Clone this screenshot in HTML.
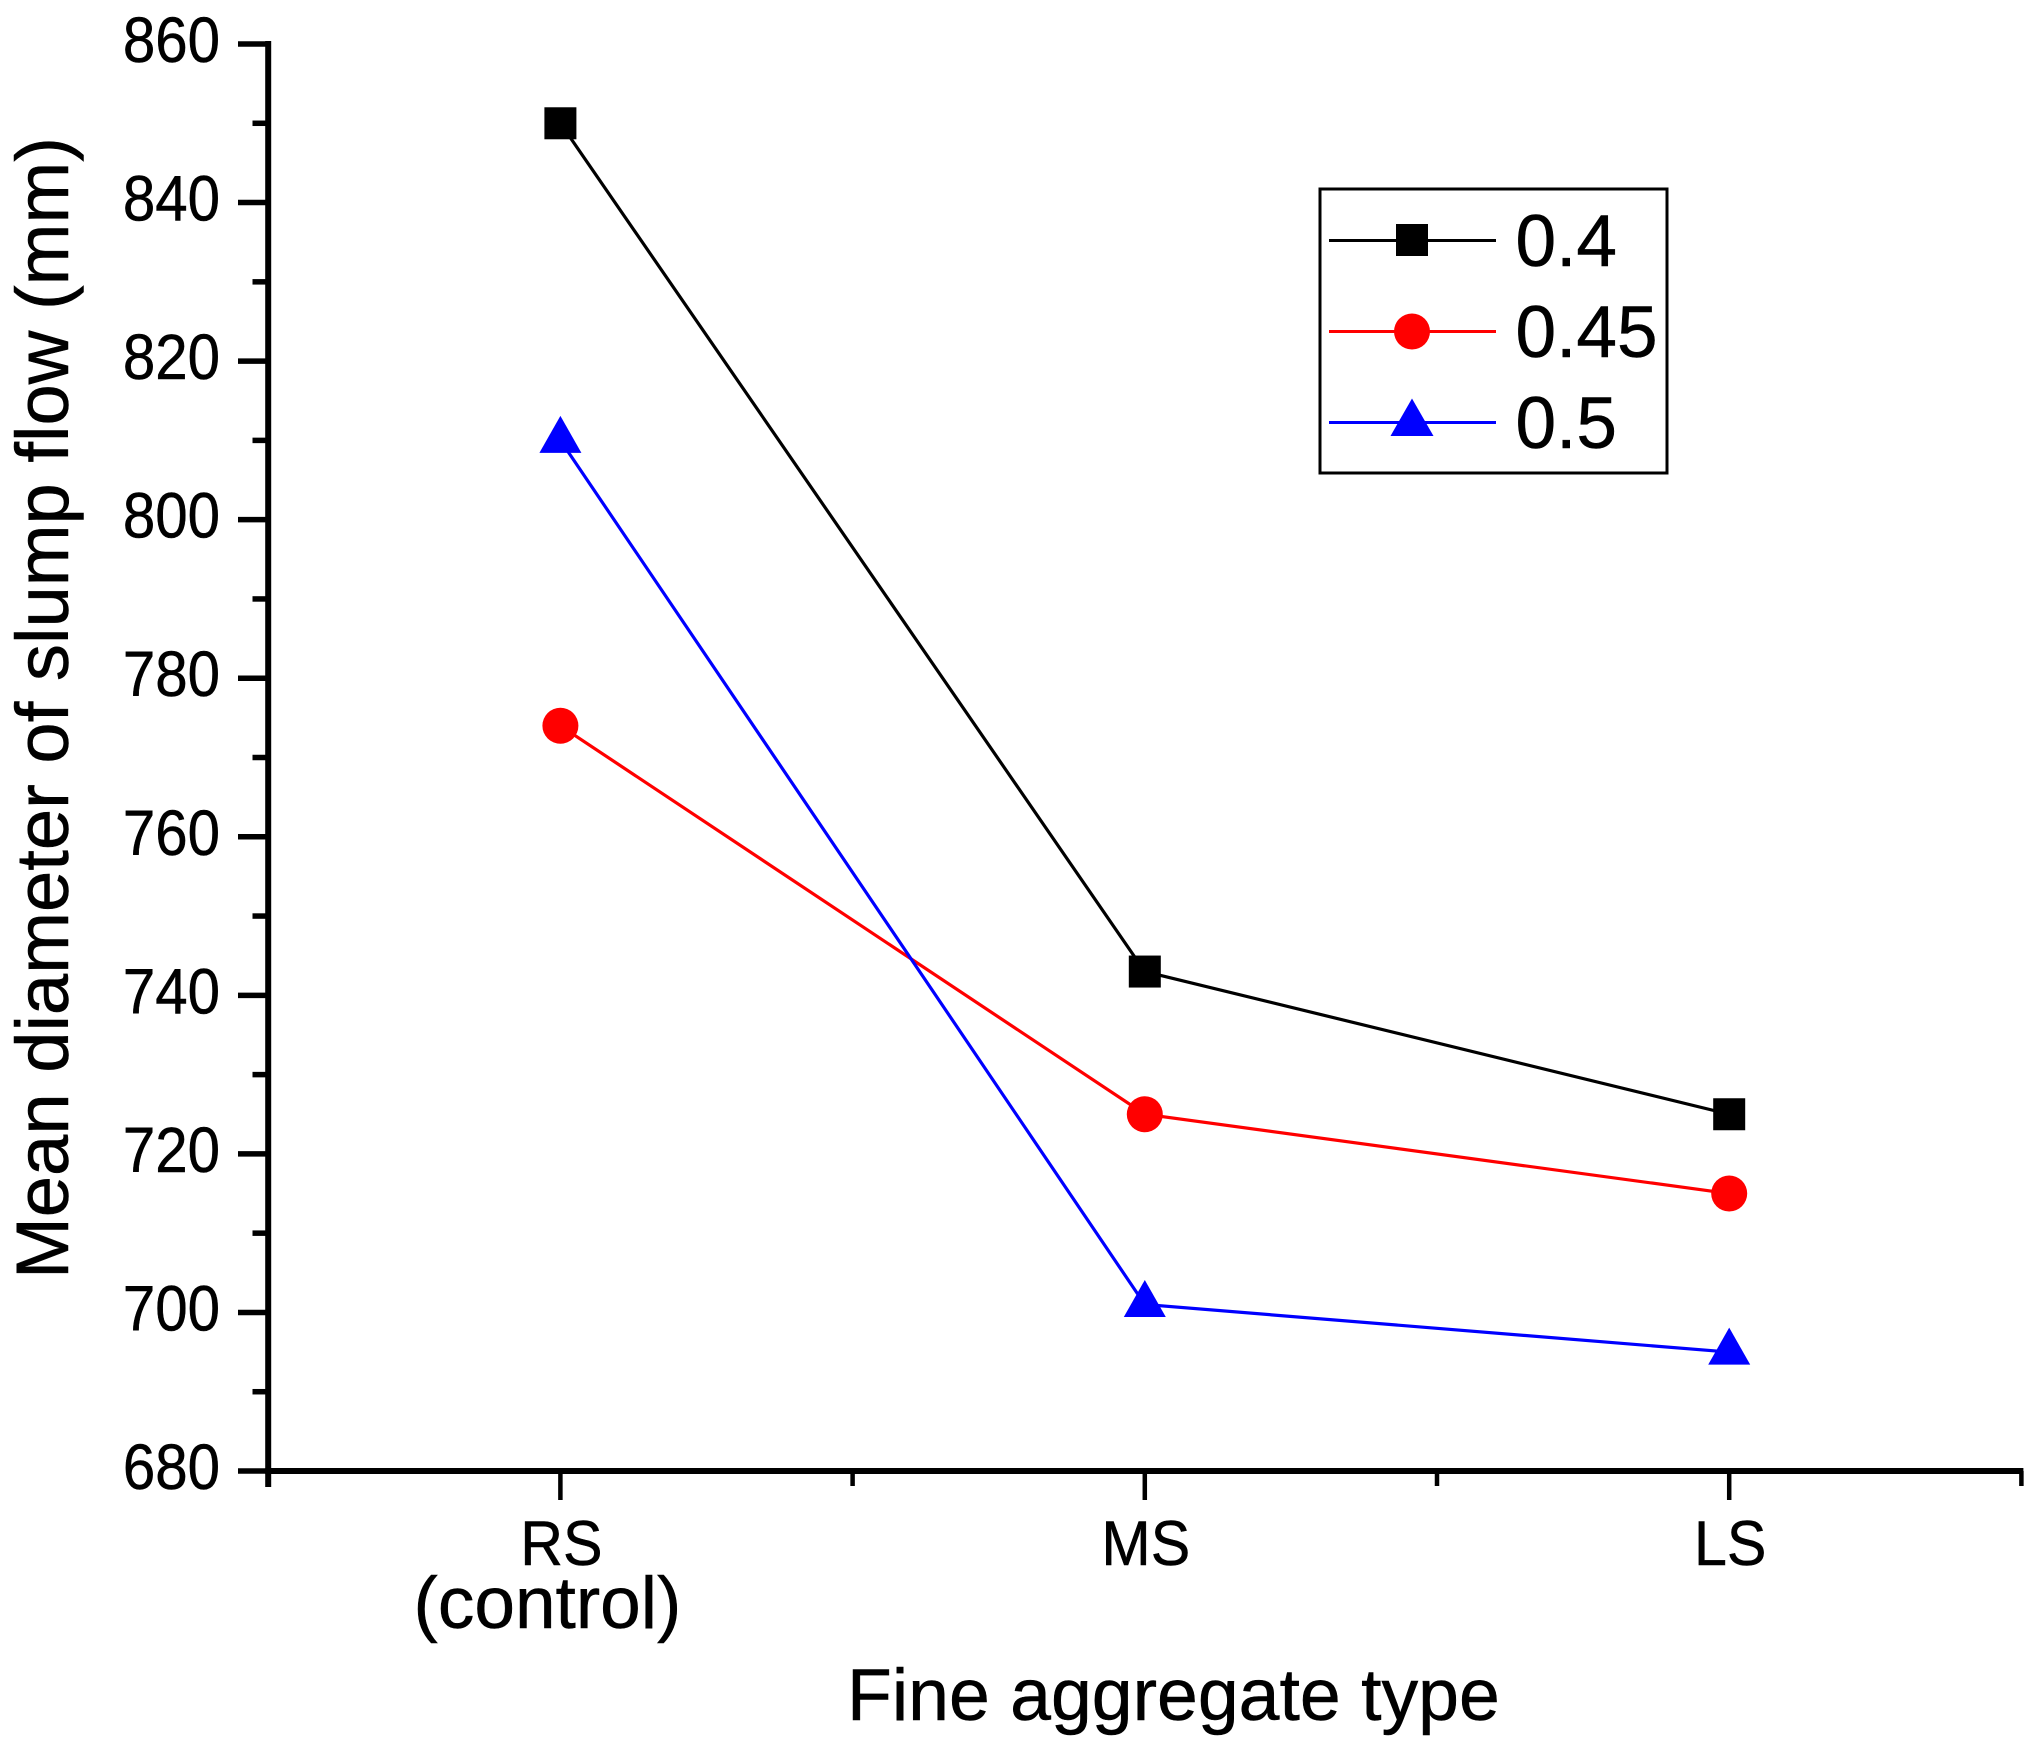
<!DOCTYPE html>
<html lang="en">
<head>
<meta charset="utf-8">
<title>Mean diameter of slump flow by fine aggregate type</title>
<style>
  html, body { margin: 0; padding: 0; background: #fff; }
  svg { display: block; }
  text { font-family: "Liberation Sans", Arial, sans-serif; fill: #000; stroke: #000; stroke-width: 0.5px; }
</style>
</head>
<body>
<svg id="chart" xmlns="http://www.w3.org/2000/svg" width="2035" height="1749" viewBox="0 0 2035 1749">
  <rect x="0" y="0" width="2035" height="1749" fill="#fff"/>
  <g id="axes"></g>
  <g id="series"></g>
  <text transform="translate(68 1279) rotate(-90)" font-size="74.2">Mean diameter of slump flow (mm)</text>
  <text x="847" y="1720" font-size="73.4">Fine aggregate type</text>
  <g>
    <rect x="1320" y="189" width="347" height="284" fill="#fff" stroke="#000" stroke-width="3"/>
    <g>
      <line x1="1329" x2="1496" y1="240.5" y2="240.5" stroke="#000" stroke-width="3"/>
      <rect x="1396" y="224" width="32" height="32" fill="#000"/>
      <text x="1515.5" y="266" font-size="73">0.4</text>
    </g>
    <g>
      <line x1="1329" x2="1496" y1="331.5" y2="331.5" stroke="#f00" stroke-width="3"/>
      <circle cx="1412" cy="331.5" r="18" fill="#f00"/>
      <text x="1515.5" y="357" font-size="73">0.45</text>
    </g>
    <g>
      <line x1="1329" x2="1496" y1="422.5" y2="422.5" stroke="#00f" stroke-width="3"/>
      <polygon points="1412,398.5 1433.5,436 1390.5,436" fill="#00f"/>
      <text x="1515.5" y="448" font-size="73">0.5</text>
    </g>
  </g>
</svg>
<script>
const categories = ['RS', 'MS', 'LS'];
const categorySubLabels = ['(control)', '', ''];
const yTickLabels = [680, 700, 720, 740, 760, 780, 800, 820, 840, 860];
const yMinorTicks = [690, 710, 730, 750, 770, 790, 810, 830, 850];
const xMinorTicks = [0.5, 1.5, 2.5, 3.5];
const xDomain = [0.5, 3.5];
const yDomain = [680, 860];
const series04 = [850, 743, 725];
const series045 = [774, 725, 715];
const series05 = [810, 701, 695];

const NS = 'http://www.w3.org/2000/svg';
const plotLeft = 268.2, plotRight = 2021.4, plotTop = 44, plotBottom = 1471;

function xScale(v) {
  return plotLeft + (v - xDomain[0]) / (xDomain[1] - xDomain[0]) * (plotRight - plotLeft);
}
function yScale(v) {
  return plotBottom - (v - yDomain[0]) / (yDomain[1] - yDomain[0]) * (plotBottom - plotTop);
}
function make(tag, parent, attrs) {
  const el = document.createElementNS(NS, tag);
  for (const k in attrs) el.setAttribute(k, attrs[k]);
  parent.appendChild(el);
  return el;
}

const axes = document.getElementById('axes');
const seriesRoot = document.getElementById('series');

// Y axis
yMinorTicks.forEach(function (v) {
  const t = make('line', axes, { x1: 252.5, x2: plotLeft, y1: yScale(v), y2: yScale(v), stroke: '#000', 'stroke-width': 5.5 });
  
  
});
yTickLabels.forEach(function (v) {
  const t = make('line', axes, { x1: 238, x2: plotLeft, y1: yScale(v), y2: yScale(v), stroke: '#000', 'stroke-width': 5.5 });
  
  
  const l = make('text', axes, { transform: 'translate(220 ' + (yScale(v) + 18) + ') scale(0.91 1)', 'font-size': 64, 'text-anchor': 'end' });
  l.textContent = String(v);
  
  
});
const yAxisLine = make('line', axes, { x1: plotLeft, x2: plotLeft, y1: plotTop - 3, y2: 1487, stroke: '#000', 'stroke-width': 6 });



// X axis
xMinorTicks.forEach(function (v) {
  const t = make('line', axes, { x1: xScale(v), x2: xScale(v), y1: plotBottom, y2: 1486, stroke: '#000', 'stroke-width': 4.5 });
  
  
});
categories.forEach(function (c, i) {
  const x = xScale(i + 1);
  const t = make('line', axes, { x1: x, x2: x, y1: plotBottom, y2: 1500, stroke: '#000', 'stroke-width': 4.5 });
  
  
  const l = make('text', axes, { transform: 'translate(' + (x + 1) + ' 1565) scale(0.94 1)', 'font-size': 63, 'text-anchor': 'middle' });
  l.textContent = c;
  
  
  if (categorySubLabels[i]) {
    const s = make('text', axes, { x: x - 13, y: 1628, 'font-size': 73, 'text-anchor': 'middle' });
    s.textContent = categorySubLabels[i];
    
    
  }
});
const xAxisLine = make('line', axes, { x1: plotLeft - 3, x2: plotRight + 2, y1: plotBottom, y2: plotBottom, stroke: '#000', 'stroke-width': 6 });



// Series
function linePoints(values) {
  return values.map(function (v, i) { return xScale(i + 1) + ',' + yScale(v); }).join(' ');
}

const line04 = make('polyline', seriesRoot, { points: linePoints(series04), fill: 'none', stroke: '#000', 'stroke-width': 3.2 });


const line045 = make('polyline', seriesRoot, { points: linePoints(series045), fill: 'none', stroke: '#f00', 'stroke-width': 3.2 });


const line05 = make('polyline', seriesRoot, { points: linePoints(series05), fill: 'none', stroke: '#00f', 'stroke-width': 3.2 });



series04.forEach(function (v, i) {
  const m = make('rect', seriesRoot, { x: xScale(i + 1) - 16, y: yScale(v) - 16, width: 32, height: 32, fill: '#000' });
  
  
});
series045.forEach(function (v, i) {
  const m = make('circle', seriesRoot, { cx: xScale(i + 1), cy: yScale(v), r: 18, fill: '#f00' });
  
  
});
series05.forEach(function (v, i) {
  const x = xScale(i + 1), y = yScale(v);
  const pts = x + ',' + (y - 24.5) + ' ' + (x + 21) + ',' + (y + 12.5) + ' ' + (x - 21) + ',' + (y + 12.5);
  const m = make('polygon', seriesRoot, { points: pts, fill: '#00f' });
  
  
});
</script>
</body>
</html>
